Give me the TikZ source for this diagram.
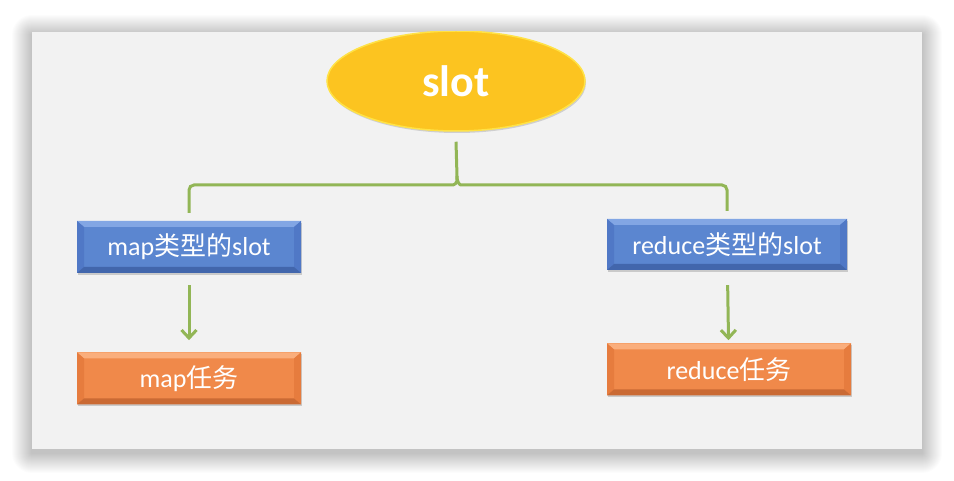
\documentclass[tikz,border=0pt]{standalone}
\usepackage{fontspec}
\setmainfont{Carlito}
\newfontfamily\cjk{Noto Sans CJK SC}
\usetikzlibrary{positioning, shapes.geometric, arrows.meta, calc, shadows}
\usepackage{xcolor}
\definecolor{panel}{RGB}{242,242,242}
\definecolor{slotyel}{RGB}{252,196,32}
\definecolor{slotrim}{RGB}{255,226,70}
\definecolor{blumid}{RGB}{91,134,208}
\definecolor{blutop}{RGB}{130,166,228}
\definecolor{bluside}{RGB}{80,120,198}
\definecolor{blubot}{RGB}{66,102,172}
\definecolor{orgmid}{RGB}{240,137,74}
\definecolor{orgtop}{RGB}{250,174,124}
\definecolor{orgside}{RGB}{230,124,62}
\definecolor{orgbot}{RGB}{202,106,52}
\definecolor{linkgreen}{RGB}{146,182,86}

\begin{document}
\begin{tikzpicture}[x=1pt, y=-1pt,
    bevel/.style n args={3}{path picture={
        \fill[#1] (path picture bounding box.north west) -- (path picture bounding box.north east)
            -- ([xshift=-7pt,yshift=-6pt]path picture bounding box.north east)
            -- ([xshift=7pt,yshift=-6pt]path picture bounding box.north west) -- cycle;
        \fill[#2] (path picture bounding box.north west) -- (path picture bounding box.south west)
            -- ([xshift=7pt,yshift=6pt]path picture bounding box.south west)
            -- ([xshift=7pt,yshift=-6pt]path picture bounding box.north west) -- cycle;
        \fill[#2] (path picture bounding box.north east) -- (path picture bounding box.south east)
            -- ([xshift=-7pt,yshift=6pt]path picture bounding box.south east)
            -- ([xshift=-7pt,yshift=-6pt]path picture bounding box.north east) -- cycle;
        \fill[#3] (path picture bounding box.south west) -- (path picture bounding box.south east)
            -- ([xshift=-7pt,yshift=6pt]path picture bounding box.south east)
            -- ([xshift=7pt,yshift=6pt]path picture bounding box.south west) -- cycle;}},
    box/.style={minimum width=224pt, minimum height=52pt, inner sep=0pt, text=white,
        font=\fontsize{26}{30}\selectfont,
        drop shadow={shadow xshift=1pt, shadow yshift=-2pt, opacity=.35}},
    slotbox/.style={box, fill=blumid, bevel={blutop}{bluside}{blubot}},
    taskbox/.style={box, fill=orgmid, bevel={orgtop}{orgside}{orgbot}},
    link/.style={linkgreen, line width=3pt},
    >={Straight Barb[length=8pt,width=15pt]}]
    \useasboundingbox (0,0) rectangle (954,481);

    % grey panel with soft shadow
    \fill[white] (0,0) rectangle (954,481);
    \foreach \r in {1,...,20}
        \fill[black, opacity=0.011, rounded corners=\r pt] (32-\r,35-\r) rectangle (922+\r,453+\r);
    \fill[panel] (32,32) rectangle (922,449);

    \begin{scope}
    \clip (32,32) rectangle (922,449);
    \node[ellipse, fill=slotyel, draw=slotrim, line width=1.5pt, minimum width=258pt, minimum height=100pt,
        inner sep=0pt, text=white, font=\fontsize{44}{48}\selectfont\bfseries,
        drop shadow={shadow xshift=1pt, shadow yshift=-2pt, opacity=.3}] (slot) at (456,81) {slot};
    \end{scope}

    \node[slotbox] (mapslot) at (189,247) {map{\cjk 类型的}slot};
    \node[slotbox, minimum width=240pt, minimum height=51pt] (redslot) at (727,244.5) {reduce{\cjk 类型的}slot};
    \node[taskbox, below=79pt of mapslot] (maptask) {map{\cjk 任务}};
    \node[taskbox, minimum width=244pt, below=73pt of redslot, xshift=2pt] (redtask) {reduce{\cjk 任务}};

    % brace
    \coordinate (bar) at (457,185);
    \draw[link, rounded corners=5pt] ([yshift=8pt]mapslot.north) -- (mapslot.north |- bar) -- ([xshift=-9pt]bar)
        .. controls ([xshift=-3pt]bar) and ([yshift=2pt]bar) .. ([yshift=9pt]bar) -- ([yshift=-10pt]slot.south);
    \draw[link, rounded corners=5pt] ([yshift=8pt]redslot.north) -- (redslot.north |- bar) -- ([xshift=9pt]bar)
        .. controls ([xshift=3pt]bar) and ([yshift=2pt]bar) .. ([yshift=9pt]bar);

    \draw[link, ->, shorten <=12pt, shorten >=12pt] (mapslot) -- (maptask);
    \draw[link, ->, shorten <=15pt, shorten >=3pt] (redslot) -- (redtask);
\end{tikzpicture}
\end{document}
